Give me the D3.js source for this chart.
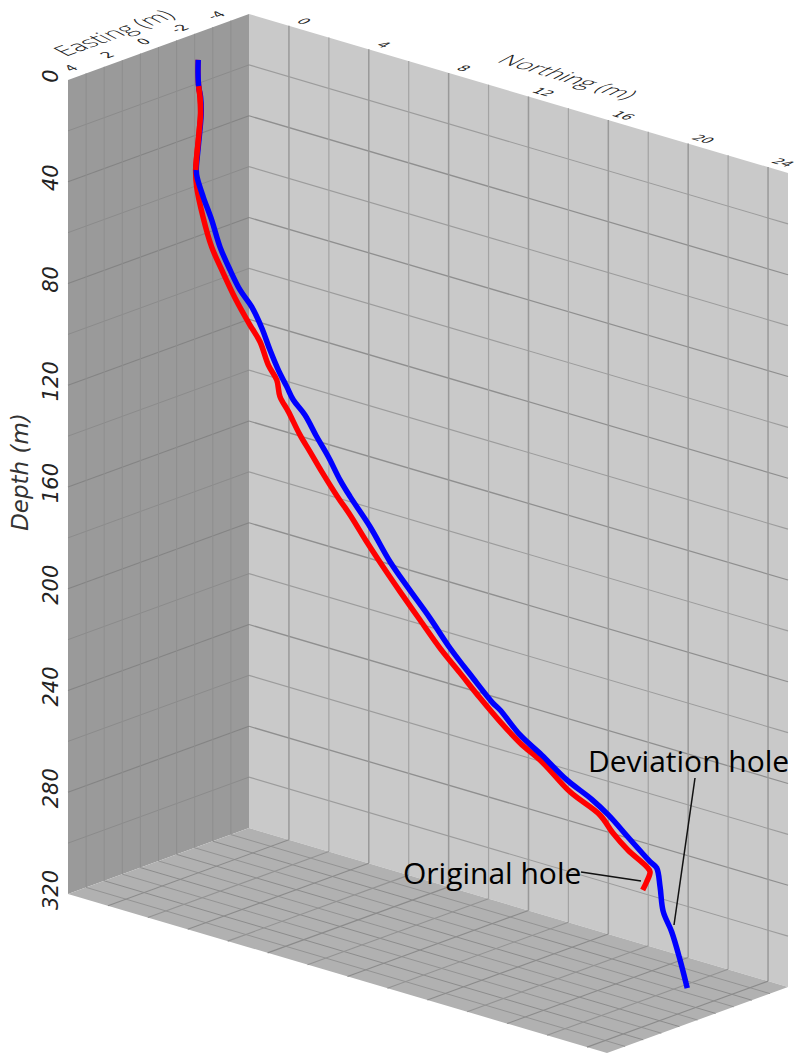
<!DOCTYPE html>
<html>
<head>
<meta charset="utf-8">
<script src="https://cdn.jsdelivr.net/npm/d3@7"></script>
<style>
  html, body { margin: 0; padding: 0; background: #fff; }
  svg { display: block; }
  .tick-label { font-family: "DejaVu Sans"; font-size: 14px; fill: #222; }
  .depth-label { font-family: "DejaVu Sans"; font-style: italic; font-size: 21px; fill: #222; }
  .depth-title { font-size: 23px; fill: #333; }
  .plane-title { font-family: "Open Sans"; font-weight: 300; font-size: 24px; fill: #222; }
  .note { font-family: "Open Sans"; font-size: 30px; fill: #000; }
</style>
</head>
<body>
<script>
// tick labels
const depthTicks = [0, 40, 80, 120, 160, 200, 240, 280, 320];
const eastingTicks = [4, 2, 0, -2, -4];
const northingTicks = [0, 4, 8, 12, 16, 20, 24];

// grid lines
const depthGrid = d3.range(0, 321, 20);
const eastingGrid = d3.range(-6, 5, 1);
const northingGrid = d3.range(-2, 25, 2);

// deviation hole
const devEasting = [-0.9,-0.9,-1,-1,-1,-1.1,-1.2,-1.2,-1.2,-1.3,-1.3,-1.4,-1.5,-1.5,-1.6,-1.6,-1.7,-1.7,-1.8,-1.8,-1.9,-1.9,-2,-2,-2.1,-2.2,-2.3,-2.3,-2.4,-2.5,-2.6,-2.7,-2.7,-2.7,-2.8,-2.9,-3,-3,-3.1,-3.1,-3.1,-3.2,-3.2,-3.3,-3.4,-3.4];
const devNorthing = [0.08,0.07,0.01,0.11,0.14,-0.03,-0.24,-0.29,-0.24,-0.03,0.39,0.72,1.13,1.63,2.12,2.63,2.95,3.37,3.7,4.03,4.52,5.11,5.6,6.19,6.6,7.51,8.42,9.33,10.33,11.24,12.3,13.21,13.57,14.57,15.56,16.73,17.89,18.72,19.72,20.72,21.05,21.13,21.29,21.62,21.95,22.31];
const devDepth = [0,5.2,10.7,14.8,21,29.5,39.7,44.9,47.9,55.2,63.2,73.4,81.7,88.4,94.1,101.3,109.5,116.4,122.4,126.9,131.9,139.1,146.1,153.9,159.7,169.7,181.6,189.8,199.6,209.5,219.1,227.1,229,236.5,242.3,249.7,254.9,259.1,266.7,273.1,274.8,282.3,291.7,299.1,309.7,319.9];

// original hole
const origEasting = [-0.9,-0.9,-1,-1,-1,-1.1,-1.2,-1.2,-1.2,-1.3,-1.4,-1.5,-1.5,-1.6,-1.7,-1.7,-1.8,-1.8,-1.9,-1.9,-2,-2,-2.1,-2.1,-2.2,-2.3,-2.3,-2.4,-2.5,-2.6,-2.6,-2.7,-2.8,-2.8,-2.9,-3,-3,-3.1,-3.1,-3.1,-3.1,-3.2];
const origNorthing = [0.08,0.07,0.01,0.08,0.11,-0.06,-0.27,-0.32,-0.27,-0.04,0.3,0.79,1.38,2.04,2.45,2.87,3.2,3.36,3.69,4.27,4.68,5.27,6.01,6.6,7.34,8.07,8.92,9.83,10.74,11.65,12.65,13.57,14.48,15.63,16.89,18.3,18.95,19.61,20.55,20.72,20.55,20.26];
const origDepth = [0,5.2,10.7,14.8,21.1,29.6,39.8,45,51.5,63.1,74.3,83.7,92.1,101.5,107.4,115.6,121,127.1,132.5,140.3,146.2,152.7,161.6,166.9,176,184.4,192.2,201.5,210.7,218.6,226.1,233.6,240.1,245.3,254,260.1,265.7,271.1,275.5,277.1,281.4,285.6];

const width = 800, height = 1053;
const eastMin = -6, eastMax = 4, northMin = -2, northMax = 25, depthMax = 320;

const svg = d3.select('body').append('svg')
    .attr('width', width)
    .attr('height', height);

// the box is an oblique view, so every axis moves both x and y on screen
const eastX = d3.scaleLinear().domain([eastMin, eastMax]).range([249, 68]);
const eastY = d3.scaleLinear().domain([eastMin, eastMax]).range([14, 80]);
const northX = d3.scaleLinear().domain([northMin, northMax]).range([0, 539]);
const northY = d3.scaleLinear().domain([northMin, northMax]).range([0, 159]);
const depthY = d3.scaleLinear().domain([0, depthMax]).range([0, 814]);

function project(e, n, d) {
    return [eastX(e) + northX(n), eastY(e) + northY(n) + depthY(d)];
}

function drawPlane(corners, fill) {
    svg.append('polygon')
        .attr('points', corners.map(c => project(c[0], c[1], c[2]).join(',')).join(' '))
        .attr('fill', fill);
}

function drawLine(group, a, b, color, w) {
    const p = project(a[0], a[1], a[2]);
    const q = project(b[0], b[1], b[2]);
    group.append('line')
        .attr('x1', p[0]).attr('y1', p[1])
        .attr('x2', q[0]).attr('y2', q[1])
        .attr('stroke', color)
        .attr('stroke-width', w);
}

// walls and floor
drawPlane([[eastMax, northMin, 0], [eastMin, northMin, 0], [eastMin, northMin, depthMax], [eastMax, northMin, depthMax]], '#9a9a9a');
drawPlane([[eastMin, northMin, 0], [eastMin, northMax, 0], [eastMin, northMax, depthMax], [eastMin, northMin, depthMax]], '#c9c9c9');
drawPlane([[eastMax, northMin, depthMax], [eastMin, northMin, depthMax], [eastMin, northMax, depthMax], [eastMax, northMax, depthMax]], '#b1b1b1');

const grid = svg.append('g').attr('class', 'grid');

// left wall
depthGrid.slice(1, -1).forEach(d => {
    drawLine(grid, [eastMax, northMin, d], [eastMin, northMin, d], d % 40 == 0 ? '#848484' : '#8b8b8b', d % 40 == 0 ? 1.2 : 1);
});
eastingGrid.slice(1, -1).forEach(e => {
    drawLine(grid, [e, northMin, 0], [e, northMin, depthMax], '#8e8e8e', 1);
});

// right wall
depthGrid.slice(1, -1).forEach(d => {
    drawLine(grid, [eastMin, northMin, d], [eastMin, northMax, d], d % 40 == 0 ? '#8f8f8f' : '#9c9c9c', d % 40 == 0 ? 1.3 : 1.1);
});
northingGrid.slice(1).forEach(n => {
    drawLine(grid, [eastMin, n, 0], [eastMin, n, depthMax], n % 4 == 0 ? '#999999' : '#a3a3a3', n % 4 == 0 ? 1.5 : 1.2);
});

// floor
eastingGrid.slice(1, -1).forEach(e => {
    drawLine(grid, [e, northMin, depthMax], [e, northMax, depthMax], e % 2 == 0 ? '#8c8c8c' : '#939393', 1);
});
northingGrid.slice(1).forEach(n => {
    drawLine(grid, [eastMin, n, depthMax], [eastMax, n, depthMax], n % 4 == 0 ? '#8b8b8b' : '#939393', 1.1);
});

// holes
const zipHole = (east, north, depth) => east.map((e, i) => project(e, north[i], depth[i]));
const holeLine = d3.line().curve(d3.curveCatmullRom.alpha(0.5));
const origPoints = zipHole(origEasting, origNorthing, origDepth);
const devPoints = zipHole(devEasting, devNorthing, devDepth);

function drawHole(points, color) {
    svg.append('path')
        .attr('d', holeLine(points))
        .attr('fill', 'none')
        .attr('stroke', color)
        .attr('stroke-width', 5.5)
        .attr('stroke-linejoin', 'round');
}
drawHole(origPoints, '#ff0000');
drawHole(devPoints, '#0000ff');
// the original hole sits on top between about 10 and 45 m
drawHole(origPoints.slice(2, 8), '#ff0000');

// depth labels
svg.selectAll('.depth-label.tick')
    .data(depthTicks)
    .enter()
    .append('text')
    .attr('class', 'depth-label tick')
    .attr('text-anchor', 'middle')
    .attr('transform', d => `translate(58,${project(eastMax, northMin, d)[1] - 4}) rotate(-90)`)
    .text(d => d);

svg.append('text')
    .attr('class', 'depth-label depth-title')
    .attr('text-anchor', 'middle')
    .attr('transform', 'translate(28,472) rotate(-90)')
    .text('Depth (m)');

// the top labels lie in the plane of the box top, so they get sheared
const eastMatrix = 'matrix(0.94,-0.34,0.85,0.45,0,0)';
const northMatrix = 'matrix(0.96,0.28,-0.85,0.45,0,0)';

svg.selectAll('.east-tick')
    .data(eastingTicks)
    .enter()
    .append('text')
    .attr('class', 'tick-label east-tick')
    .attr('text-anchor', 'middle')
    .attr('dy', '0.35em')
    .attr('transform', d => {
        const p = project(d, northMin, 0);
        return `translate(${p[0] + 3},${p[1] - 12}) ${eastMatrix}`;
    })
    .text(d => d);

svg.selectAll('.north-tick')
    .data(northingTicks)
    .enter()
    .append('text')
    .attr('class', 'tick-label north-tick')
    .attr('text-anchor', 'middle')
    .attr('dy', '0.35em')
    .attr('transform', d => {
        const p = project(eastMin, d, 0);
        return `translate(${p[0] + 15},${p[1] - 4.5}) ${northMatrix}`;
    })
    .text(d => d);

svg.append('text')
    .attr('class', 'plane-title')
    .attr('text-anchor', 'middle')
    .attr('dy', '0.35em')
    .attr('transform', `translate(114,33) ${eastMatrix}`)
    .text('Easting (m)');

svg.append('text')
    .attr('class', 'plane-title')
    .attr('text-anchor', 'middle')
    .attr('dy', '0.35em')
    .attr('transform', `translate(568,77) ${northMatrix}`)
    .text('Northing (m)');

// annotations
svg.append('text').attr('class', 'note').attr('x', 588).attr('y', 772).text('Deviation hole');
svg.append('text').attr('class', 'note').attr('x', 403).attr('y', 884).text('Original hole');

const leaders = svg.append('g').attr('stroke', '#111').attr('stroke-width', 1.5);
leaders.append('line').attr('x1', 581).attr('y1', 872).attr('x2', 641).attr('y2', 881);
leaders.append('line').attr('x1', 695).attr('y1', 778).attr('x2', 674).attr('y2', 925);
</script>
</body>
</html>
